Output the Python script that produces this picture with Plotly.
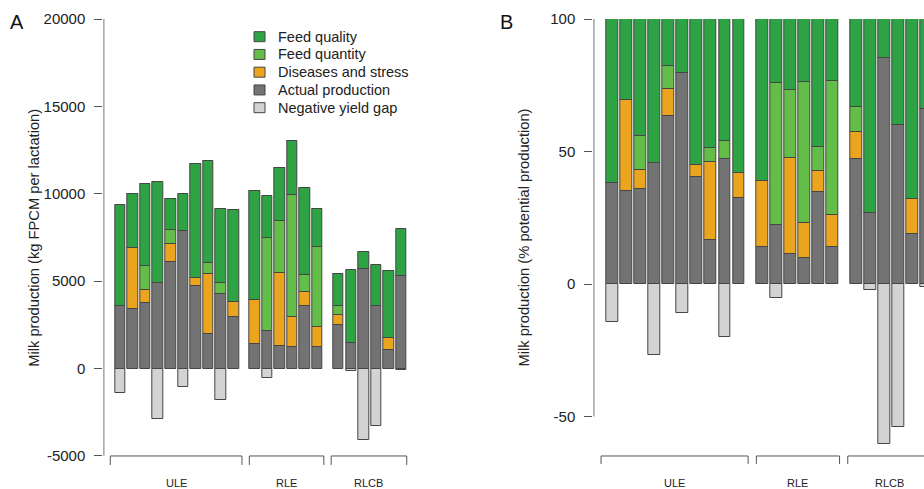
import plotly.graph_objects as go

# ---------------- data ----------------
groups = ["ULE", "RLE", "RLCB"]
group_sizes = [10, 6, 6]
series_names = ["Feed quality", "Feed quantity", "Diseases and stress",
                "Actual production", "Negative yield gap"]

# Panel A: kg FPCM per lactation (segment sizes)
a_actual = [3560, 3430, 3780, 4900, 6120, 7890, 4750, 1960, 4290, 2970,
            1430, 2150, 1290, 1240, 3600, 1240,
            2520, 1490, 5700, 3560, 1050, 5300]
a_disease = [0, 3470, 740, 0, 990, 0, 450, 3470, 0, 820,
             2480, 0, 4160, 1730, 760, 1140,
             570, 0, 0, 0, 720, 0]
a_quantity = [0, 0, 1350, 0, 820, 0, 0, 610, 630, 0,
              0, 5340, 2990, 6980, 990, 4600,
              510, 0, 0, 0, 0, 0]
a_quality = [5820, 3090, 4690, 5800, 1770, 2080, 6490, 5820, 4210, 5310,
             6230, 2410, 3060, 3070, 5000, 2150,
             1830, 4170, 950, 2350, 3840, 2690]
a_negative = [-1370, 0, 0, -2880, 0, -1070, 0, 0, -1810, 0,
              0, -555, 0, 0, 0, 0,
              0, -150, -4100, -3260, 0, -100]

# Panel B: % of potential production
b_actual = [38.0, 35.0, 36.0, 45.8, 63.3, 79.7, 40.5, 16.7, 47.2, 32.6,
            14.1, 22.1, 11.4, 9.7, 34.8, 14.1,
            47.2, 26.7, 85.2, 60.1, 19.0, 66.2]
b_disease = [0, 34.3, 7.1, 0, 10.4, 0, 4.5, 29.2, 0, 9.3,
             24.6, 0, 36.3, 13.4, 7.8, 12.1,
             10.0, 0, 0, 0, 13.2, 0]
b_quantity = [0, 0, 12.9, 0, 8.4, 0, 0, 5.4, 6.8, 0,
              0, 53.9, 25.6, 53.0, 9.2, 50.3,
              9.5, 0, 0, 0, 0, 0]
b_quality = [62.0, 30.7, 44.0, 54.2, 17.9, 20.3, 55.0, 48.7, 46.0, 58.1,
             61.3, 24.0, 26.7, 23.9, 48.2, 23.5,
             33.3, 73.3, 14.8, 39.9, 67.8, 33.8]
b_negative = [-14.3, 0, 0, -26.7, 0, -10.8, 0, 0, -20.0, 0,
              0, -5.3, 0, 0, 0, 0,
              0, -2.3, -60.5, -53.8, 0, -1.2]

a_ticks = [-5000, 0, 5000, 10000, 15000, 20000]
a_tick_labels = ["-5000", "0", "5000", "10000", "15000", "20000"]
b_ticks = [-50, 0, 50, 100]
b_tick_labels = ["-50", "0", "50", "100"]

# ---------------- style ----------------
FONT = "Liberation Sans, Arial, sans-serif"
W, H = 924, 489
colors = {
    "Feed quality": "#2ea343",
    "Feed quantity": "#63bd48",
    "Diseases and stress": "#eba41d",
    "Actual production": "#737373",
    "Negative yield gap": "#d3d3d3",
}
OUTLINE = "#454545"
AXC = "#555555"
SPACE, GAP = 0.2, 1.0


def px_x(p):
    return p / W


def px_y(p):
    return 1 - p / H


def bar_positions(sizes):
    xs, extents, start = [], [], 0.0
    for n in sizes:
        for i in range(n):
            xs.append(start + 0.5 + i * (1 + SPACE))
        end = start + n + (n - 1) * SPACE
        extents.append((start, end))
        start = end + GAP
    return xs, extents


xs, extents = bar_positions(group_sizes)
total_units = extents[-1][1]
pad = 0.04 * total_units

fig = go.Figure()

panels = [
    ("x", "y", [a_actual, a_disease, a_quantity, a_quality, a_negative]),
    ("x2", "y2", [b_actual, b_disease, b_quantity, b_quality, b_negative]),
]
stack_names = ["Actual production", "Diseases and stress", "Feed quantity",
               "Feed quality", "Negative yield gap"]
for xa, ya, series in panels:
    for name, vals in zip(stack_names, series):
        fig.add_trace(go.Bar(
            x=xs, y=vals, width=1.0, name=name, xaxis=xa, yaxis=ya,
            marker=dict(color=colors[name], line=dict(color=OUTLINE, width=1)),
            showlegend=False, hoverinfo="skip"))

# plot geometry (reference pixels)
top_px, bot_px = 19, 475.2
ydom = [px_y(bot_px), px_y(top_px)]
a_left, a_right = 103.3, 418.4
b_left = 593.3
b_unit = 11.72
b_xmax = -pad + (W - b_left) / b_unit

axis_common = dict(ticks="outside", ticklen=8, tickcolor=AXC, showgrid=False,
                   zeroline=False, showline=False, tickfont=dict(size=15, color="#222222"),
                   ticklabelstandoff=6, automargin=False)

fig.update_layout(
    width=W, height=H, barmode="relative", bargap=0,
    plot_bgcolor="white", paper_bgcolor="white",
    margin=dict(l=0, r=0, t=0, b=0, autoexpand=False),
    font=dict(family=FONT, color="#222222"),
    xaxis=dict(domain=[px_x(a_left), px_x(a_right)], range=[-pad, total_units + pad],
               visible=False, anchor="y", automargin=False),
    yaxis=dict(domain=ydom, range=[-6100, 20000], tickvals=a_ticks,
               ticktext=a_tick_labels, anchor="x", **axis_common),
    xaxis2=dict(domain=[px_x(b_left), 1.0], range=[-pad, b_xmax],
                visible=False, anchor="y2", automargin=False),
    yaxis2=dict(domain=ydom, range=[-72.15, 100], tickvals=b_ticks,
                ticktext=b_tick_labels, anchor="x2", **axis_common),
)

shapes, annotations = [], []

# axis lines (span first to last tick, like R)
for xr, yr, ticks in [("x", "y", a_ticks), ("x2", "y2", b_ticks)]:
    shapes.append(dict(type="line", xref=xr, yref=yr, x0=-pad + 0.05, x1=-pad + 0.05,
                       y0=ticks[0], y1=ticks[-1], line=dict(color=AXC, width=1)))

# group brackets + labels
bracket_pads = [(0.45, 0.3), (0.0, 0.1), (0.2, 0.0)]
for xr, yr, yb, ylow in [("x", "y", -5000, -5515), ("x2", "y2", -64.9, -67.9)]:
    for (g0, g1), (pl, pr), gname in zip(extents, bracket_pads, groups):
        x0, x1 = g0 - pl, g1 + pr
        shapes.append(dict(type="path", xref=xr, yref=yr,
                           path=f"M {x0},{ylow} L {x0},{yb} L {x1},{yb} L {x1},{ylow}",
                           line=dict(color=AXC, width=1)))
        annotations.append(dict(x=(x0 + x1) / 2, xref=xr, y=px_y(483), yref="paper",
                                text=gname, showarrow=False, xanchor="center",
                                yanchor="middle", font=dict(size=11, color="#222222")))

# y-axis titles
annotations.append(dict(x=px_x(33.3), y=px_y(237.5), xref="paper", yref="paper",
                        text="Milk production (kg FPCM per lactation)", textangle=-90,
                        showarrow=False, xanchor="center", yanchor="middle",
                        font=dict(size=14.7)))
annotations.append(dict(x=px_x(523), y=px_y(237.5), xref="paper", yref="paper",
                        text="Milk production (% potential production)", textangle=-90,
                        showarrow=False, xanchor="center", yanchor="middle",
                        font=dict(size=14.7)))

# panel letters
for letter, px in [("A", 8), ("B", 498)]:
    annotations.append(dict(x=px_x(px), y=px_y(21.5), xref="paper", yref="paper",
                            text=letter, showarrow=False, xanchor="left",
                            yanchor="middle", font=dict(size=20, color="#111111")))

# legend (drawn manually for R-like compact spacing)
for i, name in enumerate(series_names):
    cy = 36.7 + i * 17.75
    shapes.append(dict(type="rect", xref="paper", yref="paper",
                       x0=px_x(254), x1=px_x(265), y0=px_y(cy + 5), y1=px_y(cy - 5),
                       fillcolor=colors[name], line=dict(color=OUTLINE, width=1)))
    annotations.append(dict(x=px_x(276), y=px_y(cy), xref="paper", yref="paper",
                            text=name, showarrow=False, xanchor="left", yanchor="middle",
                            font=dict(size=14.5, color="#222222")))

fig.update_layout(shapes=shapes, annotations=annotations)
fig.write_html("out.html", config={"displayModeBar": False},
               post_script="document.body.style.margin='0';document.body.style.overflow='hidden';")
